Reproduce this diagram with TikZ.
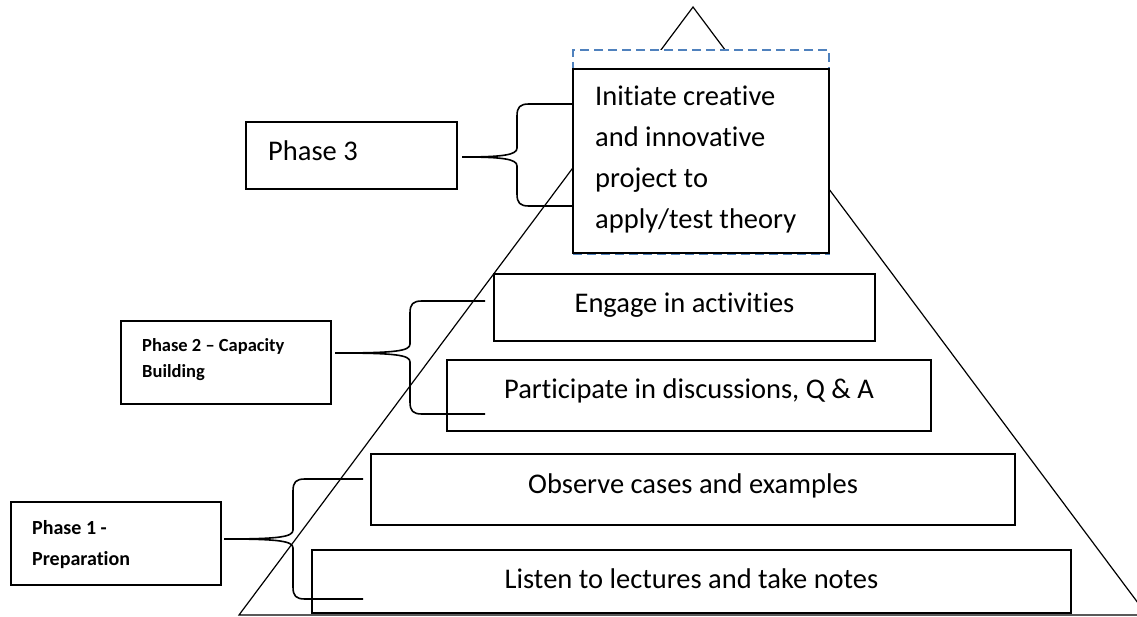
\documentclass[tikz,border=0pt]{standalone}
\usepackage{fontspec}
\setmainfont{Carlito}[Ligatures=NoCommon]
\usetikzlibrary{calc}
\definecolor{dashblue}{RGB}{79,129,189}
\newcommand\phbrace[6]{%
  \draw[brc] (#3,#4) -- ({#2+12},#4) .. controls ({#2+3},#4) and (#2,{#4+3}) .. (#2,{#4+12})
    -- (#2,{#5-9}) .. controls (#2,{#5-2}) and ({#2-14},#5) .. (#1,#5)
    .. controls ({#2-14},#5) and (#2,{#5+2}) .. (#2,{#5+9})
    -- (#2,{#6-12}) .. controls (#2,{#6-3}) and ({#2+3},#6) .. ({#2+12},#6) -- (#3,#6);}
\begin{document}
\begin{tikzpicture}[x=1pt,y=-1pt,
  tri/.style={line width=1.2pt, line join=miter},
  box/.style={draw, line width=1.8pt, fill=white, inner sep=0pt, font=\fontsize{28.5}{34}\selectfont},
  phasebox/.style={draw, line width=1.8pt, fill=white, inner sep=0pt},
  bigtxt/.style={anchor=base west, inner sep=0pt, font=\fontsize{28.5}{34}\selectfont},
  smalltxt/.style={anchor=base west, inner sep=0pt, font=\fontsize{18.5}{22}\selectfont\bfseries},
  brc/.style={line width=1.6pt}]
\useasboundingbox (0,0) rectangle (1137,617);
\clip (0,0) rectangle (1137,617);
% pyramid
\coordinate (apex) at (693,7);
\coordinate (bl) at (239,615);
\coordinate (br) at (1147,615);
\draw[tri] (bl) -- (apex) -- (br) -- cycle;
% dashed frame of the top box
\node[draw=dashblue, dash pattern=on 9pt off 5pt, line width=2.6pt, fill=white,
      minimum width=256pt, minimum height=204pt, inner sep=0pt] (cover) at (701,152) {};
% top box
\node[phasebox, minimum width=256pt, minimum height=184pt] (init) at (701,161) {};
\node[bigtxt] (i1) at (595,106) {Initiate creative};
\node[bigtxt] (i2) at (595,147) {and innovative};
\node[bigtxt] (i3) at (595,188) {project to};
\node[bigtxt] (i4) at (595,229) {apply/test theory};
% activity boxes
\node[box, minimum width=381pt, text height=39pt, text depth=28pt] (engage) at (684.5,307.5) {Engage in activities};
\node[box, minimum width=484pt, text height=38pt, text depth=33pt] (part) at (689,395.5) {Participate in discussions, Q \& A};
\node[box, minimum width=644pt, text height=39pt, text depth=32pt] (obs) at (693,489.5) {Observe cases and examples};
\node[box, minimum width=759pt, text height=38pt, text depth=25pt] (listen) at (691.5,581.5) {Listen to lectures and take notes};
% phase boxes
\node[phasebox, minimum width=211pt, minimum height=67pt] (p3) at (351.5,155.5) {};
\node[bigtxt] (p3t) at (268,161) {Phase 3};
\node[phasebox, minimum width=210pt, minimum height=83pt] (p2) at (226,362.5) {};
\node[smalltxt] (p2a) at (142,351) {Phase 2 – Capacity};
\node[smalltxt] (p2b) at (142,377) {Building};
\node[phasebox, minimum width=210pt, minimum height=83pt] (p1) at (116,543.5) {};
\node[smalltxt, font=\fontsize{20}{24}\selectfont\bfseries] (p1a) at (32,534) {Phase 1 -};
\node[smalltxt, font=\fontsize{20}{24}\selectfont\bfseries] (p1b) at (32,565) {Preparation};
% braces
\phbrace{462}{517}{573}{104}{157}{206}
\phbrace{335}{410}{485}{301}{353}{414}
\phbrace{224}{293}{363}{479}{539}{599}
\end{tikzpicture}
\end{document}
